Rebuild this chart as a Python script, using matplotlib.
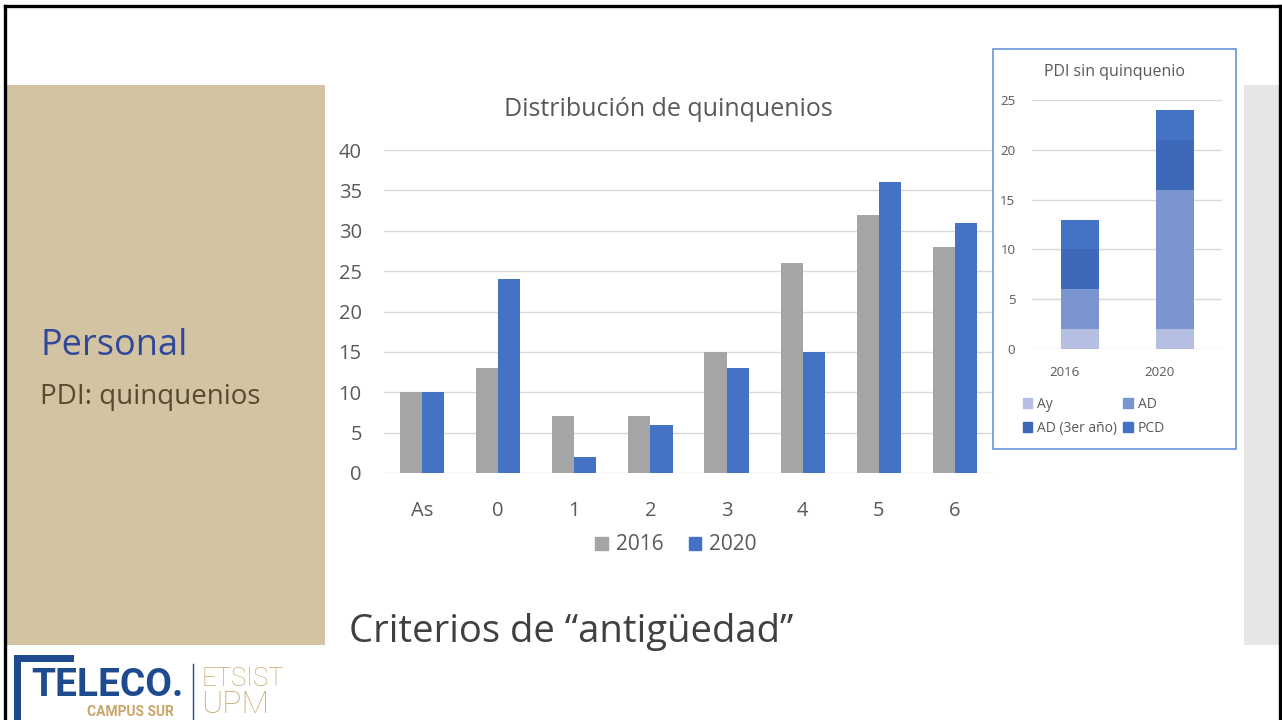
import matplotlib
matplotlib.use("Agg")
import matplotlib.pyplot as plt
from matplotlib.patches import Rectangle, Patch
from matplotlib.lines import Line2D
from matplotlib.transforms import ScaledTranslation

# ---------------- data ----------------
categories = ["As", "0", "1", "2", "3", "4", "5", "6"]
values_2016 = [10, 13, 7, 7, 15, 26, 32, 28]
values_2020 = [10, 24, 2, 6, 13, 15, 36, 31]
main_yticks = [0, 5, 10, 15, 20, 25, 30, 35, 40]

inset_years = ["2016", "2020"]
inset_series = ["Ay", "AD", "AD (3er año)", "PCD"]
inset_ay = [2, 2]
inset_ad = [4, 14]
inset_ad3 = [4, 5]
inset_pcd = [3, 3]
inset_yticks = [0, 5, 10, 15, 20, 25]

# ---------------- style ----------------
W, H = 1282, 720
plt.rcParams['font.family'] = ['Open Sans', 'DejaVu Sans']
TXT = "#595959"
C2016 = "#A5A5A5"
C2020 = "#4472C4"
inset_colors = ["#B4BFE1", "#7B95D0", "#3E69B8", "#4472C4"]

fig = plt.figure(figsize=(W / 100, H / 100), dpi=100)
fig.patch.set_facecolor("white")


def fx(x):
    return x / W


def fy(y):
    return 1 - y / H


def box(x0, y0, x1, y1):
    return [fx(x0), fy(y1), fx(x1) - fx(x0), fy(y0) - fy(y1)]


# background decorations
fig.patches.append(Rectangle((fx(5), fy(645)), fx(325) - fx(5), fy(85) - fy(645),
                             transform=fig.transFigure, facecolor="#D2C4A2",
                             edgecolor="none", zorder=0))
fig.patches.append(Rectangle((fx(1244), fy(645)), fx(1280) - fx(1244), fy(85) - fy(645),
                             transform=fig.transFigure, facecolor="#E6E6E6",
                             edgecolor="none", zorder=0))
# slide frame
for (xa, ya, xb, yb) in [(5, 6, 1280, 6), (5, 6, 5, 720), (1280, 6, 1280, 720)]:
    fig.lines.append(Line2D([fx(xa), fx(xb)], [fy(ya), fy(yb)], transform=fig.transFigure,
                            color="black", lw=2.4, zorder=5))

# left panel text
fig.text(fx(40), fy(346), "Personal", fontsize=26, color="#30479A", va="center", ha="left")
fig.text(fx(40), fy(397), "PDI: quinquenios", fontsize=20, color="#584A30", va="center", ha="left")
fig.text(fx(349), fy(632), "Criterios de \u201cantigüedad\u201d", fontsize=27.5, color="#404040",
         va="center", ha="left")

# ---------------- main chart ----------------
ax = fig.add_axes(box(384, 150, 993, 473))
x = list(range(len(categories)))
bw = 0.29
ax.bar([i - bw / 2 for i in x], values_2016, width=bw, color=C2016, label="2016", zorder=3)
ax.bar([i + bw / 2 for i in x], values_2020, width=bw, color=C2020, label="2020", zorder=3)
ax.set_xlim(-0.5, len(categories) - 0.5)
ax.set_ylim(0, 40)
ax.set_yticks(main_yticks)
ax.set_xticks(x)
ax.set_xticklabels(categories)
ax.grid(axis="y", color="#D9D9D9", lw=1, zorder=0)
ax.tick_params(axis="both", length=0, labelsize=14.5, colors=TXT)
ax.tick_params(axis="x", pad=20)
ax.tick_params(axis="y", pad=16)
for s in ax.spines.values():
    s.set_visible(False)
ax.set_facecolor("none")
fig.text(fx(668), fy(109), "Distribución de quinquenios", fontsize=18, color=TXT,
         ha="center", va="center")
handles = [Patch(color=C2016, label="2016"), Patch(color=C2020, label="2020")]
fig.legend(handles=handles, loc="center", bbox_to_anchor=(fx(676), fy(545)), ncol=2,
           frameon=False, fontsize=15, handlelength=0.6, handleheight=0.6,
           handletextpad=0.4, columnspacing=1.2, labelcolor=TXT)

# ---------------- inset chart ----------------
fig.patches.append(Rectangle((fx(993), fy(449)), fx(1236) - fx(993), fy(49) - fy(449),
                             transform=fig.transFigure, facecolor="white",
                             edgecolor="#6A93D8", lw=1.2, zorder=1))
iax = fig.add_axes(box(1032, 100, 1222, 349))
iax.set_zorder(2)
ix = list(range(len(inset_years)))
bottom = [0, 0]
for vals, col, lab in zip([inset_ay, inset_ad, inset_ad3, inset_pcd], inset_colors, inset_series):
    iax.bar(ix, vals, width=0.4, bottom=bottom, color=col, label=lab, zorder=3)
    bottom = [b + v for b, v in zip(bottom, vals)]
iax.set_xlim(-0.5, 1.5)
iax.set_ylim(0, 25)
iax.set_yticks(inset_yticks)
iax.set_xticks(ix)
iax.set_xticklabels(inset_years)
iax.grid(axis="y", color="#D9D9D9", lw=1, zorder=0)
iax.tick_params(axis="both", length=0, labelsize=9.5, colors=TXT)
iax.tick_params(axis="y", pad=12)
iax.tick_params(axis="x", pad=12)
shift = ScaledTranslation(-15 / 100, 0, fig.dpi_scale_trans)
for lbl in iax.get_xticklabels():
    lbl.set_transform(lbl.get_transform() + shift)
for s in iax.spines.values():
    s.set_visible(False)
iax.set_facecolor("none")
fig.text(fx(1114), fy(72), "PDI sin quinquenio", fontsize=11.5, color=TXT, ha="center",
         va="center", zorder=3)
ih = [Patch(color=c, label=l) for c, l in zip(inset_colors, inset_series)]
leg = fig.legend(handles=[ih[0], ih[2], ih[1], ih[3]], loc="upper left",
                 bbox_to_anchor=(fx(1010), fy(384)), ncol=2, frameon=False, fontsize=10,
                 handlelength=0.7, handleheight=0.7, handletextpad=0.35, columnspacing=0.45,
                 labelspacing=0.65, labelcolor=TXT)
leg.set_zorder(3)

# ---------------- logo ----------------
BLUE = "#1E4B8F"
GOLD = "#C9A56A"
fig.patches.append(Rectangle((fx(14), fy(720)), fx(21) - fx(14), fy(655) - fy(720),
                             transform=fig.transFigure, facecolor=BLUE, edgecolor="none"))
fig.patches.append(Rectangle((fx(14), fy(662)), fx(74) - fx(14), fy(655) - fy(662),
                             transform=fig.transFigure, facecolor=BLUE, edgecolor="none"))
fig.text(fx(31), fy(686), "TELECO.", fontsize=28, fontweight="bold", color=BLUE,
         ha="left", va="center", family=["Roboto", "DejaVu Sans"])
fig.text(fx(87), fy(712), "CAMPUS SUR", fontsize=10, fontweight="bold", color=GOLD,
         ha="left", va="center", family=["Roboto", "DejaVu Sans"])
fig.lines.append(Line2D([fx(193), fx(193)], [fy(664), fy(720)], transform=fig.transFigure,
                        color=BLUE, lw=1))
fig.text(fx(202), fy(686), "ETSIST", fontsize=18.5, fontweight="light", color=GOLD,
         ha="left", va="baseline", family=["Roboto", "DejaVu Sans"])
fig.text(fx(201), fy(713), "UPM", fontsize=23, fontweight="light", color=GOLD,
         ha="left", va="baseline", family=["Roboto", "DejaVu Sans"])

fig.savefig("out.png", dpi=100, facecolor="white")
